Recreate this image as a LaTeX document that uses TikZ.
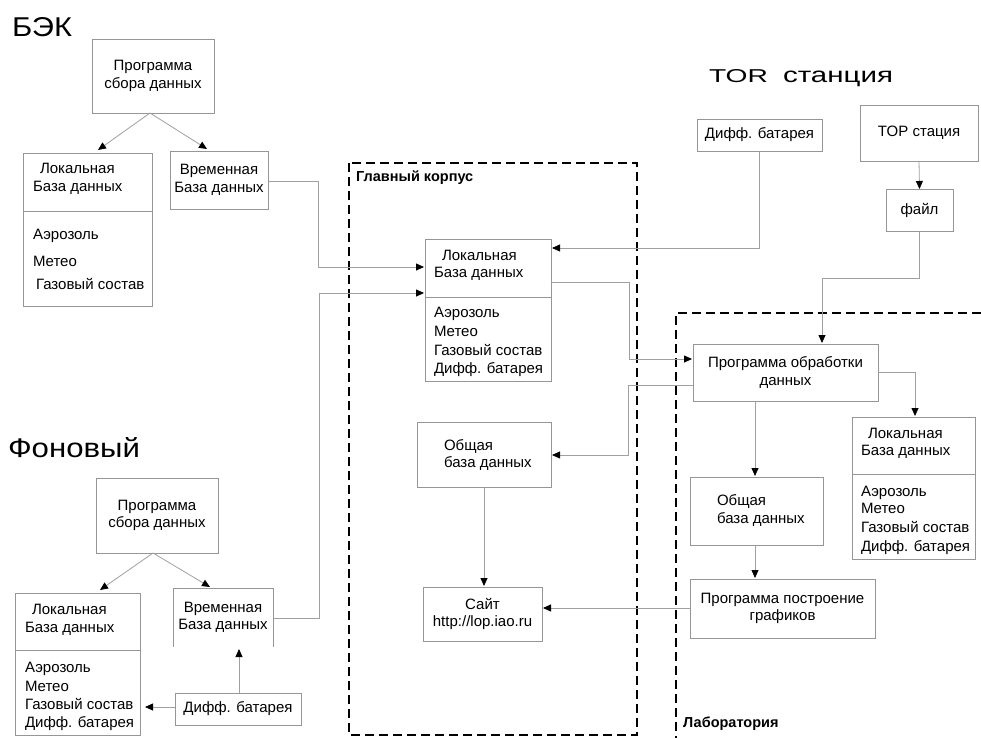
\documentclass[tikz,border=0pt]{standalone}
\usepackage{fontspec}
\usepackage{graphicx}
\setmainfont{Liberation Sans}
\usetikzlibrary{arrows.meta,calc}
\definecolor{bx}{RGB}{150,150,150}
\definecolor{ln}{RGB}{160,160,160}
\newcommand\bodyfnt{\fontsize{15}{17.5}\selectfont}
\newcommand\lblfnt{\fontsize{14.5}{17}\selectfont\bfseries}
\begin{document}
\begin{tikzpicture}[x=1pt,y=-1pt,
  box/.style={draw=bx, line width=0.8pt, inner sep=0pt, outer sep=0pt, font=\bodyfnt, align=center},
  openbox/.style={inner sep=0pt, outer sep=0pt, font=\bodyfnt, align=center},
  txt/.style={inner sep=0pt, outer sep=0pt, font=\bodyfnt, anchor=base west},
  conn/.style={draw=ln, line width=0.8pt, -{Triangle[length=8pt,width=7pt,color=black]}},
  plain/.style={draw=ln, line width=0.8pt},
  divl/.style={draw=bx, line width=0.8pt},
  region/.style={draw=black, line width=1.8pt, dash pattern=on 9pt off 5pt},
  ttl/.style={inner sep=0pt, outer sep=0pt, anchor=base west}]
\useasboundingbox[fill=white] (0,0) rectangle (981,738);

% titles
\node[ttl] (tbek) at (12,37) {\resizebox{60pt}{19pt}{БЭК}};
\node[ttl] (tfon) at (8,457) {\resizebox{132pt}{20pt}{Фоновый}};
\node[ttl] (ttor) at (709,83) {\resizebox{59pt}{13pt}{TOR}};
\node[ttl] (tst) at (783,83) {\resizebox{110pt}{11.5pt}{станция}};

% dashed regions
\draw[region] (349,163) rectangle (637,735);
\draw[region] (981,313) -- (676,313) -- (676,738);
\node[inner sep=0pt, anchor=base west, font=\lblfnt] (lmain) at (356,182) {Главный корпус};
\node[inner sep=0pt, anchor=base west, font=\lblfnt] (llab) at (683,727) {Лаборатория};

% BEK
\node[box, minimum width=122pt, minimum height=74pt] (P1) at (153,76) {Программа\\сбора данных};
\node[box, minimum width=129pt, minimum height=153pt] (L1) at (87.5,229.5) {};
\draw[divl] (L1.west |- 0,211) -- (L1.east |- 0,211);
\node[txt] (l1a) at (40,174) {Локальная};
\node[txt] (l1b) at (33,191) {База данных};
\node[txt] (l1c) at (33,239) {Аэрозоль};
\node[txt] (l1d) at (33,266) {Метео};
\node[txt] (l1e) at (36,289) {Газовый состав};
\node[box, minimum width=98pt, minimum height=58pt] (T1) at (219,180) {Временная\\База данных};

% main building
\node[box, minimum width=126pt, minimum height=142pt] (L2) at (488,310) {};
\draw[divl] (L2.west |- 0,297) -- (L2.east |- 0,297);
\node[txt] (l2a) at (442,260) {Локальная};
\node[txt] (l2b) at (434,277) {База данных};
\node[txt] (l2c) at (434,317) {Аэрозоль};
\node[txt] (l2d) at (434,336) {Метео};
\node[txt] (l2e) at (434,355) {Газовый состав};
\node[txt] (l2f) at (434,373) {Дифф. батарея};
\node[box, minimum width=134pt, minimum height=65pt] (G1) at (484,454.5) {};
\node[txt] (g1a) at (444,450) {Общая};
\node[txt] (g1b) at (444,467) {база данных};
\node[box, minimum width=119pt, minimum height=54pt] (S) at (482.5,614) {Сайт\\http://lop.iao.ru};

% TOR
\node[box, minimum width=125pt, minimum height=32pt] (D1) at (759.5,135) {Дифф. батарея};
\node[box, minimum width=118pt, minimum height=56pt] (TOR) at (919,133) {TOP стация};
\node[box, minimum width=67pt, minimum height=42pt] (F) at (919.5,210) {файл};

% laboratory
\node[box, minimum width=185pt, minimum height=57pt] (PO) at (785.5,372.5) {Программа обработки\\данных};
\node[box, minimum width=123pt, minimum height=142pt] (L3) at (913.5,488) {};
\draw[divl] (L3.west |- 0,474) -- (L3.east |- 0,474);
\node[txt] (l3a) at (868,438) {Локальная};
\node[txt] (l3b) at (861,455) {База данных};
\node[txt] (l3c) at (861,496) {Аэрозоль};
\node[txt] (l3d) at (861,513) {Метео};
\node[txt] (l3e) at (861,532) {Газовый состав};
\node[txt] (l3f) at (861,551) {Дифф. батарея};
\node[box, minimum width=133pt, minimum height=68pt] (G2) at (756.5,511) {};
\node[txt] (g2a) at (717,505) {Общая};
\node[txt] (g2b) at (717,523) {база данных};
\node[box, minimum width=185pt, minimum height=59pt] (PG) at (782.5,608.5) {Программа построение\\графиков};

% Fonovyi
\node[box, minimum width=122pt, minimum height=75pt] (P2) at (157,515.5) {Программа\\сбора данных};
\node[box, minimum width=125pt, minimum height=142pt] (L4) at (77.5,664) {};
\draw[divl] (L4.west |- 0,650) -- (L4.east |- 0,650);
\node[txt] (l4a) at (32,614) {Локальная};
\node[txt] (l4b) at (25,632) {База данных};
\node[txt] (l4c) at (25,672) {Аэрозоль};
\node[txt] (l4d) at (25,691) {Метео};
\node[txt] (l4e) at (25,709) {Газовый состав};
\node[txt] (l4f) at (25,727) {Дифф. батарея};
\node[openbox, minimum width=100pt, minimum height=59pt] (T2) at (223,617.5) {Временная\\База данных};
\draw[divl] (T2.south west) -- (T2.north west) -- (T2.north east) -- (T2.south east);
\node[box, minimum width=126pt, minimum height=32pt] (DB2) at (238,709) {Дифф. батарея};

% connector end points
\coordinate (p1o) at (150,113);
\coordinate (l1i) at (98,150);
\coordinate (t1i) at (207,149);
\coordinate (p2o) at (153,553);
\coordinate (l4i) at (100,590);
\coordinate (t2i) at (210,587);
\coordinate (l2i1) at (424,267);
\coordinate (l2i2) at (424,293);
\coordinate (l2i3) at (552,248);
\coordinate (l2o) at (551,282);
\coordinate (poi1) at (692,359);
\coordinate (poi2) at (822,343);
\coordinate (poo1) at (693,385);
\coordinate (g1i) at (552,455);
\coordinate (poo2) at (878,372);
\coordinate (l3i) at (915,416);
\coordinate (poo3) at (755,401);
\coordinate (g2i) at (755,476);
\coordinate (g2o) at (755,545);
\coordinate (pgi) at (755,578);
\coordinate (pgo) at (690,608);
\coordinate (si) at (543,608);
\coordinate (g1o) at (484,487);
\coordinate (s1i) at (484,586);
\coordinate (db2t) at (239,693);
\coordinate (t2b) at (239,649);
\coordinate (db2l) at (175,707);
\coordinate (l4r) at (145,707);
\coordinate (t1o) at (268,181);
\coordinate (t2o) at (273,618);

% connectors
\draw[conn] (p1o) -- (l1i);
\draw[conn] (p1o) -- (t1i);
\draw[conn] (p2o) -- (l4i);
\draw[conn] (p2o) -- (t2i);
\draw[conn] (t1o) -- (318,181) -- (318,267) -- (l2i1);
\draw[conn] (t2o) -- (319,618) -- (319,293) -- (l2i2);
\draw[conn] (D1.south) -- (759.5,248) -- (l2i3);
\draw[conn] (TOR.south) -- (F.north);
\draw[conn] (F.south) -- (919.5,278) -- (822,278) -- (poi2);
\draw[conn] (l2o) -- (629,282) -- (629,359) -- (poi1);
\draw[conn] (poo1) -- (628,385) -- (628,455) -- (g1i);
\draw[conn] (poo2) -- (915,372) -- (l3i);
\draw[conn] (poo3) -- (g2i);
\draw[conn] (g2o) -- (pgi);
\draw[conn] (pgo) -- (si);
\draw[conn] (g1o) -- (s1i);
\draw[conn] (db2t) -- (t2b);
\draw[conn] (db2l) -- (l4r);
\end{tikzpicture}
\end{document}
